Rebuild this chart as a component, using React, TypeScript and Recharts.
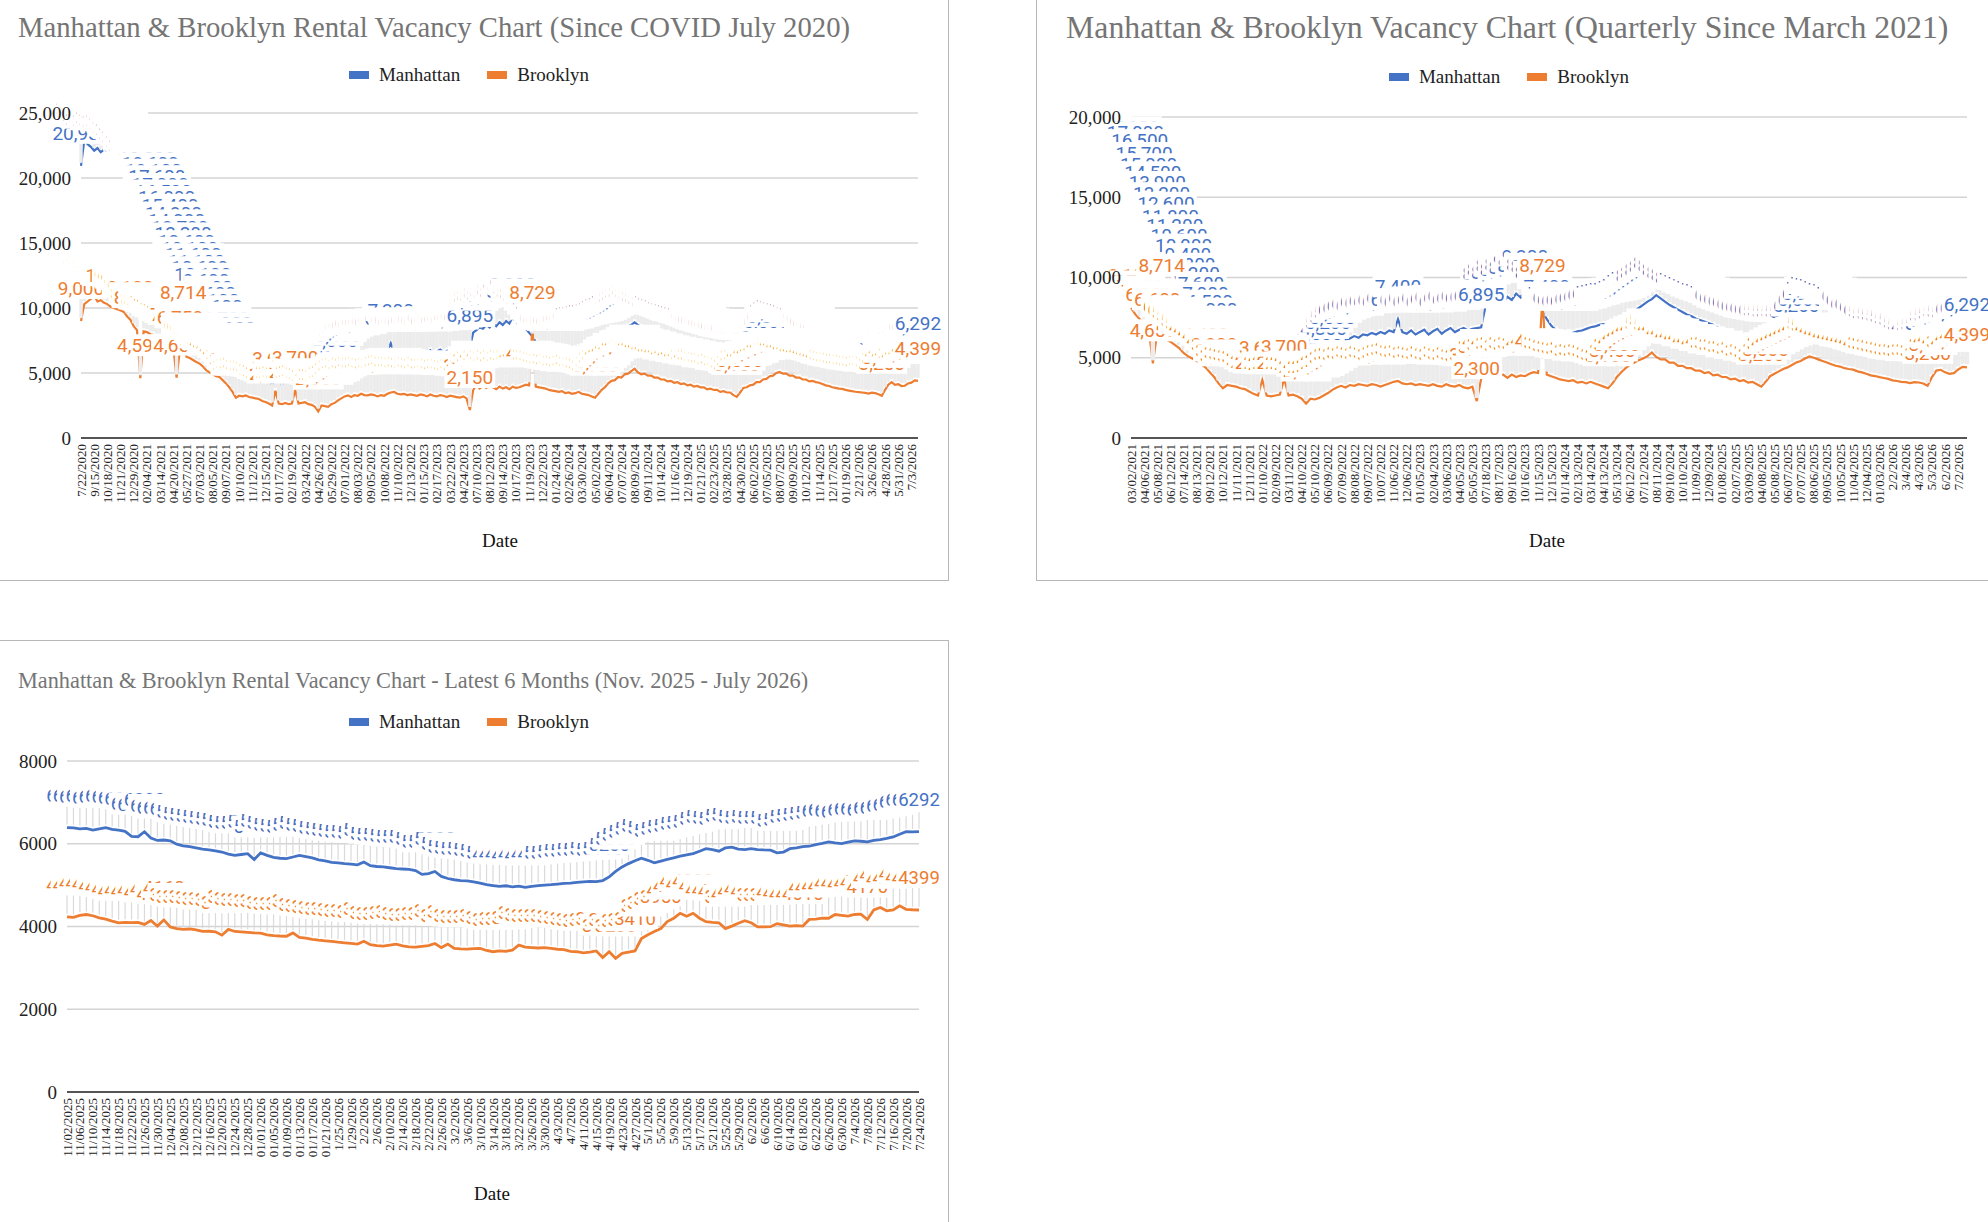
import { CartesianGrid, LabelList, Line, LineChart, XAxis, YAxis } from "recharts";

const BLUE = "#4472C4";
const ORANGE = "#ED7D31";
const SERIF = '"Liberation Serif", "Times New Roman", serif';
const LABEL_FONT = 'Roboto, "Noto Sans", sans-serif';

// Since COVID (daily data, a point every ~8 days, tick every 4th point)
const SINCE_COVID_TICKS = [
	"7/22/2020", "9/15/2020", "10/18/2020", "11/21/2020", "12/29/2020",
	"02/04/2021", "03/14/2021", "04/20/2021", "05/27/2021", "07/03/2021", "08/05/2021", "09/07/2021", "10/10/2021", "11/12/2021", "12/15/2021",
	"01/17/2022", "02/19/2022", "03/24/2022", "04/26/2022", "05/29/2022", "07/01/2022", "08/03/2022", "09/05/2022", "10/08/2022", "11/10/2022", "12/13/2022",
	"01/15/2023", "02/17/2023", "03/22/2023", "04/24/2023", "07/10/2023", "08/12/2023", "09/14/2023", "10/17/2023", "11/19/2023", "12/22/2023",
	"01/24/2024", "02/26/2024", "03/30/2024", "05/02/2024", "06/04/2024", "07/07/2024", "08/09/2024", "09/11/2024", "10/14/2024", "11/16/2024", "12/19/2024",
	"01/21/2025", "02/23/2025", "03/28/2025", "04/30/2025", "06/02/2025", "07/05/2025", "08/07/2025", "09/09/2025", "10/12/2025", "11/14/2025", "12/17/2025",
	"01/19/2026", "2/21/2026", "3/26/2026", "4/28/2026", "5/31/2026", "7/3/2026",
];
const SINCE_COVID_PER_TICK = 4;
const SINCE_COVID_MANHATTAN = [
	20936, 22900, 22600, 22400, 22100, 22300, 21979, 22200, 22100, 21900, 22000, 21800,
	21500, 21300, 21000, 20800, 20400, 20100, 19800, 19400, 19000, 18600, 18100, 17600,
	17000, 16500, 16000, 15400, 14800, 14200, 13700, 13200, 12600, 12100, 11600, 11100,
	10600, 10100, 9600, 9100, 8600, 8100, 7600, 7100, 6700, 6300, 5900, 5500,
	5200, 4900, 4700, 4550, 4450, 4350, 4300, 4200, 4150, 4250, 4100, 4200,
	4150, 4100, 4250, 4100, 4050, 4150, 4000, 3950, 4000, 4100, 4050, 4100,
	3900, 4100, 4200, 4350, 4600, 5000, 5400, 5700, 5950, 6100, 6250, 6200,
	6350, 6300, 6450, 6500, 6450, 6550, 6500, 6600, 6550, 6700, 7300, 6650,
	6600, 6500, 6650, 6550, 6500, 6600, 6550, 6700, 6600, 6500, 6750, 6550,
	6650, 6800, 6600, 6700, 6750, 6650, 6800, 6850, 6900, 6850, 6895, 8100,
	8300, 8500, 8400, 8700, 8500, 8800, 8600, 8900, 8700, 9000, 8800, 9300,
	8900, 8700, 8600, 8400, 8100, 7800, 7400, 7100, 6800, 6650, 6600, 6550,
	6600, 6550, 6650, 6700, 6750, 6850, 6900, 7000, 7050, 7100, 7150, 7200,
	7250, 7300, 7400, 7550, 7700, 7800, 7950, 8100, 8300, 8500, 8600, 8700,
	8900, 8700, 8550, 8400, 8300, 8150, 8000, 7900, 7800, 7700, 7600, 7500,
	7400, 7300, 7250, 7150, 7100, 7000, 6900, 6800, 6700, 6600, 6550, 6450,
	6400, 6300, 6250, 6150, 6100, 6050, 6000, 5950, 5900, 5880, 5850, 5860,
	5850, 5860, 5872, 6150, 6500, 6850, 7200, 7450, 7600, 7550, 7450, 7400,
	7300, 7200, 7100, 7000, 6900, 6750, 6550, 6370, 6350, 6180, 6090, 5930,
	5840, 5740, 5720, 5670, 5610, 5520, 5490, 5420, 5380, 5160, 5080, 4970,
	4980, 5010, 5080, 5110, 5600, 5580, 5760, 5860, 5860, 5845, 5900, 6010,
	6040, 6100, 6292,
];
const SINCE_COVID_BROOKLYN = [
	9000, 10300, 10500, 10700, 10950, 10500, 10600, 10400, 10300, 10100, 10000, 9900,
	9800, 9700, 9350, 9100, 8600, 8300, 4594, 8200, 8150, 8000, 7950, 7700,
	7600, 7400, 7300, 7150, 7000, 4650, 6750, 8714, 6250, 6150, 6000, 5850,
	5720, 5500, 5210, 5050, 4900, 4750, 4690, 4450, 4200, 3900, 3550, 3100,
	3250, 3200, 3280, 3150, 3100, 3050, 3000, 2850, 2770, 2650, 2500, 3628,
	2650, 2600, 2700, 2600, 2650, 3700, 2650, 2700, 2750, 2600, 2550, 2400,
	2050, 2500, 2450, 2400, 2600, 2700, 2900, 3050, 3200, 3280, 3150, 3300,
	3250, 3400, 3300, 3280, 3350, 3300, 3200, 3300, 3250, 3400, 3500, 3550,
	3400, 3350, 3400, 3300, 3350, 3300, 3250, 3350, 3300, 3200, 3350, 3250,
	3200, 3300, 3250, 3150, 3250, 3200, 3150, 3100, 3200, 3050, 2150, 3672,
	4100, 3800, 4000, 3850, 4050, 3900, 3750, 3950, 3800, 3900, 3750, 3950,
	3850, 3900, 4000, 4100, 4050, 8729, 3950, 3900, 3850, 3800, 3700, 3650,
	3600, 3550, 3600, 3450, 3500, 3400, 3450, 3550, 3400, 3350, 3300, 3200,
	3100, 3400, 3700, 3900, 4200, 4400, 4450, 4700, 4650, 4900, 4950, 5150,
	5330, 5050, 4900, 4950, 4800, 4800, 4650, 4650, 4500, 4500, 4350, 4400,
	4250, 4300, 4150, 4200, 4050, 4100, 3950, 4000, 3900, 3900, 3750, 3800,
	3700, 3700, 3550, 3600, 3500, 3500, 3300, 3160, 3500, 3850, 3900, 4050,
	4100, 4300, 4300, 4500, 4550, 4750, 4800, 5000, 5080, 4950, 4950, 4800,
	4800, 4650, 4650, 4500, 4500, 4350, 4400, 4300, 4250, 4150, 4050, 4000,
	3900, 3850, 3800, 3780, 3700, 3650, 3600, 3560, 3530, 3500, 3470, 3410,
	3490, 3450, 3365, 3250, 3700, 4100, 4300, 4090, 4140, 3995, 4020, 4200,
	4260, 4430, 4399,
];

// Quarterly since March 2021 (a point every ~10 days, tick every 3rd point)
const QUARTERLY_TICKS = [
	"03/02/2021", "04/06/2021", "05/08/2021", "06/12/2021", "07/14/2021", "08/13/2021", "09/12/2021", "10/12/2021", "11/11/2021", "12/11/2021",
	"01/10/2022", "02/09/2022", "03/11/2022", "04/10/2022", "05/10/2022", "06/09/2022", "07/09/2022", "08/08/2022", "09/07/2022", "10/07/2022", "11/06/2022", "12/06/2022",
	"01/05/2023", "02/04/2023", "03/06/2023", "04/05/2023", "05/05/2023", "07/18/2023", "08/17/2023", "09/16/2023", "10/16/2023", "11/15/2023", "12/15/2023",
	"01/14/2024", "02/13/2024", "03/14/2024", "04/13/2024", "05/13/2024", "06/12/2024", "07/12/2024", "08/11/2024", "09/10/2024", "10/10/2024", "11/09/2024", "12/09/2024",
	"01/08/2025", "02/07/2025", "03/09/2025", "04/08/2025", "05/08/2025", "06/07/2025", "07/07/2025", "08/06/2025", "09/05/2025", "10/05/2025", "11/04/2025", "12/04/2025",
	"01/03/2026", "2/2/2026", "3/4/2026", "4/3/2026", "5/3/2026", "6/2/2026", "7/2/2026",
];
const QUARTERLY_PER_TICK = 3;
const QUARTERLY_MANHATTAN = [
	17300, 17000, 16500, 15700, 15000, 14500, 13900, 13200, 12600, 11800, 11200, 10600,
	10000, 9400, 8800, 8200, 7600, 7000, 6500, 6000, 5500, 5200, 4900, 4700,
	4450, 4350, 4250, 4150, 4200, 4100, 4150, 4050, 4200, 4100, 4050, 4000,
	4100, 3950, 4050, 4100, 4000, 4050, 4250, 4500, 4800, 5200, 5500, 5800,
	6000, 6100, 6200, 6350, 6250, 6450, 6400, 6550, 6450, 6600, 6500, 6700,
	6600, 7400, 6600, 6500, 6700, 6450, 6600, 6750, 6450, 6650, 6800, 6500,
	6700, 6850, 6600, 6750, 6850, 6700, 6800, 6850, 6895, 8200, 8500, 8300,
	8700, 8450, 8800, 8600, 9000, 8750, 9300, 8800, 8650, 8300, 7900, 7400,
	7000, 6750, 6600, 6550, 6600, 6550, 6650, 6700, 6800, 6900, 6950, 7050,
	7100, 7150, 7200, 7250, 7350, 7500, 7700, 7900, 8100, 8300, 8500, 8650,
	8900, 8700, 8500, 8300, 8150, 8000, 7850, 7700, 7600, 7450, 7350, 7250,
	7150, 7050, 6900, 6750, 6650, 6550, 6450, 6350, 6250, 6150, 6100, 6050,
	6000, 5950, 5900, 5880, 5860, 5850, 5860, 5872, 6200, 6600, 6950, 7300,
	7600, 7550, 7450, 7350, 7250, 7150, 7000, 6850, 6600, 6380, 6340, 6150,
	6000, 5880, 5760, 5750, 5660, 5600, 5520, 5450, 5360, 5150, 5020, 4980,
	5010, 5060, 5100, 5600, 5630, 5760, 5870, 5860, 5820, 6040, 6100, 6292,
];
const QUARTERLY_BROOKLYN = [
	8100, 7700, 7400, 7100, 6900, 4650, 6600, 8714, 6150, 6000, 5800, 5600,
	5300, 5100, 4950, 4800, 4600, 4400, 4100, 3800, 3400, 3100, 3300, 3250,
	3200, 3100, 3050, 2900, 2750, 2650, 3628, 2650, 2600, 2650, 2700, 3700,
	2650, 2700, 2600, 2450, 2150, 2450, 2400, 2500, 2650, 2800, 3000, 3150,
	3250, 3150, 3300, 3250, 3350, 3300, 3250, 3350, 3300, 3200, 3300, 3400,
	3500, 3550, 3400, 3350, 3400, 3300, 3350, 3300, 3250, 3350, 3250, 3200,
	3350, 3250, 3200, 3300, 3150, 3100, 3200, 2300, 3672, 4050, 3800, 4050,
	3850, 3950, 3750, 3950, 3800, 3900, 3850, 4000, 4100, 4050, 8729, 3950,
	3850, 3750, 3650, 3600, 3550, 3600, 3450, 3500, 3400, 3500, 3400, 3300,
	3200, 3100, 3400, 3800, 4100, 4350, 4550, 4700, 4850, 4950, 5100, 5330,
	5050, 4900, 4900, 4700, 4700, 4500, 4500, 4350, 4350, 4200, 4200, 4050,
	4100, 3900, 3950, 3800, 3800, 3650, 3700, 3550, 3600, 3450, 3500, 3350,
	3200, 3500, 3850, 4000, 4150, 4300, 4400, 4550, 4700, 4800, 4950, 5080,
	5000, 4900, 4800, 4700, 4600, 4500, 4450, 4350, 4300, 4260, 4150, 4090,
	4000, 3900, 3860, 3790, 3740, 3680, 3590, 3550, 3500, 3480, 3420, 3480,
	3460, 3400, 3250, 3800, 4200, 4250, 4090, 3995, 4040, 4270, 4430, 4399,
];

// Latest months (a point every 2 days, tick every 2nd point)
const LATEST_TICKS = [
	"11/02/2025", "11/06/2025", "11/10/2025", "11/14/2025", "11/18/2025", "11/22/2025", "11/26/2025", "11/30/2025",
	"12/04/2025", "12/08/2025", "12/12/2025", "12/16/2025", "12/20/2025", "12/24/2025", "12/28/2025",
	"01/01/2026", "01/05/2026", "01/09/2026", "01/13/2026", "01/17/2026", "01/21/2026", "1/25/2026", "1/29/2026",
	"2/2/2026", "2/6/2026", "2/10/2026", "2/14/2026", "2/18/2026", "2/22/2026", "2/26/2026",
	"3/2/2026", "3/6/2026", "3/10/2026", "3/14/2026", "3/18/2026", "3/22/2026", "3/26/2026", "3/30/2026",
	"4/3/2026", "4/7/2026", "4/11/2026", "4/15/2026", "4/19/2026", "4/23/2026", "4/27/2026",
	"5/1/2026", "5/5/2026", "5/9/2026", "5/13/2026", "5/17/2026", "5/21/2026", "5/25/2026", "5/29/2026",
	"6/2/2026", "6/6/2026", "6/10/2026", "6/14/2026", "6/18/2026", "6/22/2026", "6/26/2026", "6/30/2026",
	"7/4/2026", "7/8/2026", "7/12/2026", "7/16/2026", "7/20/2026", "7/24/2026",
];
const LATEST_PER_TICK = 2;
const LATEST_MANHATTAN = [
	6392, 6385, 6360, 6370, 6330, 6360, 6390, 6350, 6330, 6300,
	6180, 6170, 6290, 6140, 6080, 6090, 6070, 5990, 5950, 5930,
	5900, 5870, 5850, 5830, 5800, 5750, 5720, 5740, 5760, 5620,
	5780, 5720, 5670, 5650, 5640, 5680, 5720, 5690, 5660, 5610,
	5585, 5550, 5540, 5520, 5510, 5490, 5560, 5470, 5450, 5440,
	5420, 5400, 5390, 5380, 5350, 5260, 5280, 5330, 5210, 5160,
	5130, 5110, 5105, 5080, 5050, 5010, 4990, 4970, 4985, 4960,
	4975, 4945, 4970, 4990, 5000, 5010, 5025, 5040, 5050, 5065,
	5080, 5090, 5085, 5110, 5200, 5330, 5440, 5520, 5590, 5650,
	5600, 5540, 5580, 5620, 5660, 5700, 5730, 5760, 5820, 5880,
	5860, 5820, 5900, 5920, 5870, 5860, 5880, 5860, 5850, 5845,
	5780, 5800, 5880, 5900, 5930, 5940, 5980, 6010, 6045, 6020,
	6005, 6040, 6070, 6060, 6045, 6080, 6100, 6130, 6165, 6230,
	6290, 6285, 6292,
];
const LATEST_BROOKLYN = [
	4234, 4220, 4270, 4290, 4260, 4210, 4180, 4130, 4090, 4100,
	4095, 4100, 4050, 4145, 4010, 4160, 3990, 3950, 3930, 3940,
	3920, 3880, 3885, 3870, 3790, 3930, 3880, 3870, 3860, 3845,
	3840, 3800, 3780, 3770, 3765, 3845, 3735, 3720, 3690, 3670,
	3655, 3640, 3620, 3605, 3590, 3575, 3645, 3560, 3540, 3525,
	3550, 3575, 3530, 3510, 3500, 3520, 3540, 3590, 3490, 3575,
	3470, 3460, 3455, 3465, 3470, 3420, 3390, 3410, 3400, 3430,
	3550, 3500, 3490, 3480, 3490, 3470, 3450, 3440, 3400, 3390,
	3365, 3380, 3410, 3250, 3390, 3230, 3350, 3380, 3410, 3710,
	3800, 3880, 3950, 4120, 4200, 4320, 4250, 4320, 4200, 4115,
	4100, 4090, 3950, 4010, 4080, 4140, 4090, 3990, 3990, 3995,
	4070, 4040, 4010, 4020, 4010, 4170, 4180, 4200, 4200, 4290,
	4270, 4250, 4290, 4300, 4170, 4400, 4460, 4380, 4400, 4500,
	4415, 4405, 4399,
];

function valueLabel(color: string, size: number, comma: boolean) {
	return (props: any) => {
		const vb = props.viewBox || {};
		const x = props.x ?? vb.x;
		const y = props.y ?? vb.y;
		if (x == null || y == null || props.value == null) {
			return null;
		}
		const text = comma
			? Number(props.value).toLocaleString("en-US")
			: String(props.value);
		let em = 0;
		for (const ch of text) {
			em += ch === "," ? 0.22 : 0.562;
		}
		const w = em * size + 4;
		return (
			<g key={`v-${props.index}`}>
				<rect fill="#fff" height={22} width={w} x={x - w / 2} y={y - 44} />
				<text
					fill={color}
					fontFamily={LABEL_FONT}
					fontSize={size}
					textAnchor="middle"
					x={x}
					y={y - 26}
				>
					{text}
				</text>
			</g>
		);
	};
}

// thin grey callout line from each point up to its label
function leader(color: string, width: number) {
	return (p: any) => {
		if (p.cx == null || p.cy == null) {
			return <g key={`d-${p.index}`} />;
		}
		return (
			<line
				key={`d-${p.index}`}
				stroke={color}
				strokeWidth={width}
				x1={p.cx}
				x2={p.cx}
				y1={p.cy - 3}
				y2={p.cy - 22}
			/>
		);
	};
}

interface PanelProps {
	left: number;
	top: number;
	width: number;
	height: number;
	title: string;
	titleSize: number;
	titleLeft: number;
	titleTop: number;
	legendTop: number;
	legendShift: number;
	dateCenter: number;
	dateTop: number;
	margin: { top: number; right: number; bottom: number; left: number };
	yAxisWidth: number;
	yTicks: number[];
	comma: boolean;
	ticks: string[];
	perTick: number;
	manhattan: number[];
	brooklyn: number[];
	labelSize: number;
	leaderColor: string;
	leaderWidth: number;
	lineWidth: number;
}

function VacancyPanel(p: PanelProps) {
	const data = p.manhattan.map((m, i) => ({
		i,
		manhattan: m,
		brooklyn: p.brooklyn[i],
	}));
	const last = data.length - 1;
	const tickIdx = p.ticks.map((_, k) => k * p.perTick);
	const yMax = p.yTicks[p.yTicks.length - 1];

	const DateTick = (t: any) => {
		const label = p.ticks[Math.round(t.payload.value / p.perTick)];
		return (
			<text
				dominantBaseline="central"
				fill="#222"
				fontFamily={SERIF}
				fontSize={13}
				textAnchor="end"
				transform={`rotate(-90 ${t.x} ${t.y})`}
				x={t.x}
				y={t.y}
			>
				{label}
			</text>
		);
	};

	return (
		<div
			style={{
				position: "absolute",
				left: p.left,
				top: p.top,
				width: p.width,
				height: p.height,
				overflow: "hidden",
			}}
		>
			<div
				style={{
					position: "absolute",
					left: p.titleLeft,
					top: p.titleTop,
					fontFamily: SERIF,
					fontSize: p.titleSize,
					lineHeight: 1,
					color: "#757575",
					whiteSpace: "nowrap",
				}}
			>
				{p.title}
			</div>
			<div
				style={{
					position: "absolute",
					left: p.legendShift,
					top: p.legendTop,
					width: p.width,
					display: "flex",
					justifyContent: "center",
					fontFamily: SERIF,
					fontSize: 19,
					lineHeight: 1,
					color: "#222",
				}}
			>
				{[
					["Manhattan", BLUE],
					["Brooklyn", ORANGE],
				].map(([name, color], n) => (
					<span
						key={name}
						style={{
							display: "flex",
							alignItems: "center",
							marginLeft: n ? 27 : 0,
						}}
					>
						<span
							style={{
								display: "inline-block",
								width: 20,
								height: 8,
								background: color,
								marginRight: 10,
							}}
						/>
						{name}
					</span>
				))}
			</div>
			<div style={{ position: "absolute", left: 0, top: 0 }}>
				<LineChart data={data} height={p.height} margin={p.margin} width={p.width}>
					<CartesianGrid stroke="#d4d4d4" strokeWidth={1.3} vertical={false} />
					<XAxis
						axisLine={{ stroke: "#555", strokeWidth: 2 }}
						dataKey="i"
						domain={[0, last]}
						height={90}
						interval={0}
						tick={DateTick}
						tickLine={false}
						tickMargin={6}
						tickSize={0}
						ticks={tickIdx}
						type="number"
					/>
					<Line
						activeDot={false}
						dataKey="manhattan"
						dot={leader(p.leaderColor, p.leaderWidth)}
						isAnimationActive={false}
						stroke={BLUE}
						strokeWidth={p.lineWidth}
						type="linear"
					>
						<LabelList
							content={valueLabel(BLUE, p.labelSize, p.comma)}
							dataKey="manhattan"
						/>
					</Line>
					<Line
						activeDot={false}
						dataKey="brooklyn"
						dot={leader(p.leaderColor, p.leaderWidth)}
						isAnimationActive={false}
						stroke={ORANGE}
						strokeWidth={p.lineWidth}
						type="linear"
					>
						<LabelList
							content={valueLabel(ORANGE, p.labelSize, p.comma)}
							dataKey="brooklyn"
						/>
					</Line>
					<YAxis
						axisLine={false}
						domain={[0, yMax]}
						interval={0}
						tick={{ fill: "#222", fontFamily: SERIF, fontSize: 19 }}
						tickFormatter={(v: number) =>
							p.comma ? v.toLocaleString("en-US") : String(v)
						}
						tickLine={false}
						tickMargin={10}
						tickSize={0}
						ticks={p.yTicks}
						type="number"
						width={p.yAxisWidth}
					/>
				</LineChart>
			</div>
			<div
				style={{
					position: "absolute",
					left: p.dateCenter,
					top: p.dateTop,
					transform: "translateX(-50%)",
					fontFamily: SERIF,
					fontSize: 19,
					lineHeight: 1,
					color: "#111",
				}}
			>
				Date
			</div>
		</div>
	);
}

const edge = "#b7b7b7";

export default function App() {
	return (
		<div
			style={{
				position: "absolute",
				left: 0,
				top: 0,
				width: 1988,
				height: 1222,
				background: "#fff",
				overflow: "hidden",
			}}
		>
			<VacancyPanel
				brooklyn={SINCE_COVID_BROOKLYN}
				comma
				dateCenter={500}
				dateTop={531}
				height={580}
				labelSize={19}
				leaderColor="#ececec"
				leaderWidth={3.4}
				left={0}
				legendShift={-5}
				legendTop={65}
				lineWidth={2.2}
				manhattan={SINCE_COVID_MANHATTAN}
				margin={{ top: 113, right: 30, bottom: 52, left: 11 }}
				perTick={SINCE_COVID_PER_TICK}
				ticks={SINCE_COVID_TICKS}
				title="Manhattan & Brooklyn Rental Vacancy Chart (Since COVID July 2020)"
				titleLeft={18}
				titleSize={28.7}
				titleTop={13}
				top={0}
				width={948}
				yAxisWidth={70}
				yTicks={[0, 5000, 10000, 15000, 20000, 25000]}
			/>
			<VacancyPanel
				brooklyn={QUARTERLY_BROOKLYN}
				comma
				dateCenter={511}
				dateTop={531}
				height={580}
				labelSize={19}
				leaderColor="#ececec"
				leaderWidth={4.4}
				left={1036}
				legendShift={-3}
				legendTop={67}
				lineWidth={2.2}
				manhattan={QUARTERLY_MANHATTAN}
				margin={{ top: 117, right: 21, bottom: 52, left: 15 }}
				perTick={QUARTERLY_PER_TICK}
				ticks={QUARTERLY_TICKS}
				title="Manhattan & Brooklyn Vacancy Chart (Quarterly Since March 2021)"
				titleLeft={30}
				titleSize={31.8}
				titleTop={12}
				top={0}
				width={952}
				yAxisWidth={80}
				yTicks={[0, 5000, 10000, 15000, 20000]}
			/>
			<VacancyPanel
				brooklyn={LATEST_BROOKLYN}
				comma={false}
				dateCenter={492}
				dateTop={544}
				height={582}
				labelSize={18.5}
				leaderColor="#dadada"
				leaderWidth={1.2}
				left={0}
				legendShift={-5}
				legendTop={72}
				lineWidth={2.8}
				manhattan={LATEST_MANHATTAN}
				margin={{ top: 121, right: 29, bottom: 40, left: 11 }}
				perTick={LATEST_PER_TICK}
				ticks={LATEST_TICKS}
				title="Manhattan & Brooklyn Rental Vacancy Chart - Latest 6 Months (Nov. 2025 - July 2026)"
				titleLeft={18}
				titleSize={22.3}
				titleTop={30}
				top={640}
				width={948}
				yAxisWidth={56}
				yTicks={[0, 2000, 4000, 6000, 8000]}
			/>
			<div style={{ position: "absolute", left: 948, top: 0, width: 1, height: 580, background: edge }} />
			<div style={{ position: "absolute", left: 0, top: 580, width: 949, height: 1, background: edge }} />
			<div style={{ position: "absolute", left: 1036, top: 0, width: 1, height: 580, background: edge }} />
			<div style={{ position: "absolute", left: 1036, top: 580, width: 952, height: 1, background: edge }} />
			<div style={{ position: "absolute", left: 0, top: 640, width: 949, height: 1, background: edge }} />
			<div style={{ position: "absolute", left: 948, top: 640, width: 1, height: 582, background: edge }} />
		</div>
	);
}
